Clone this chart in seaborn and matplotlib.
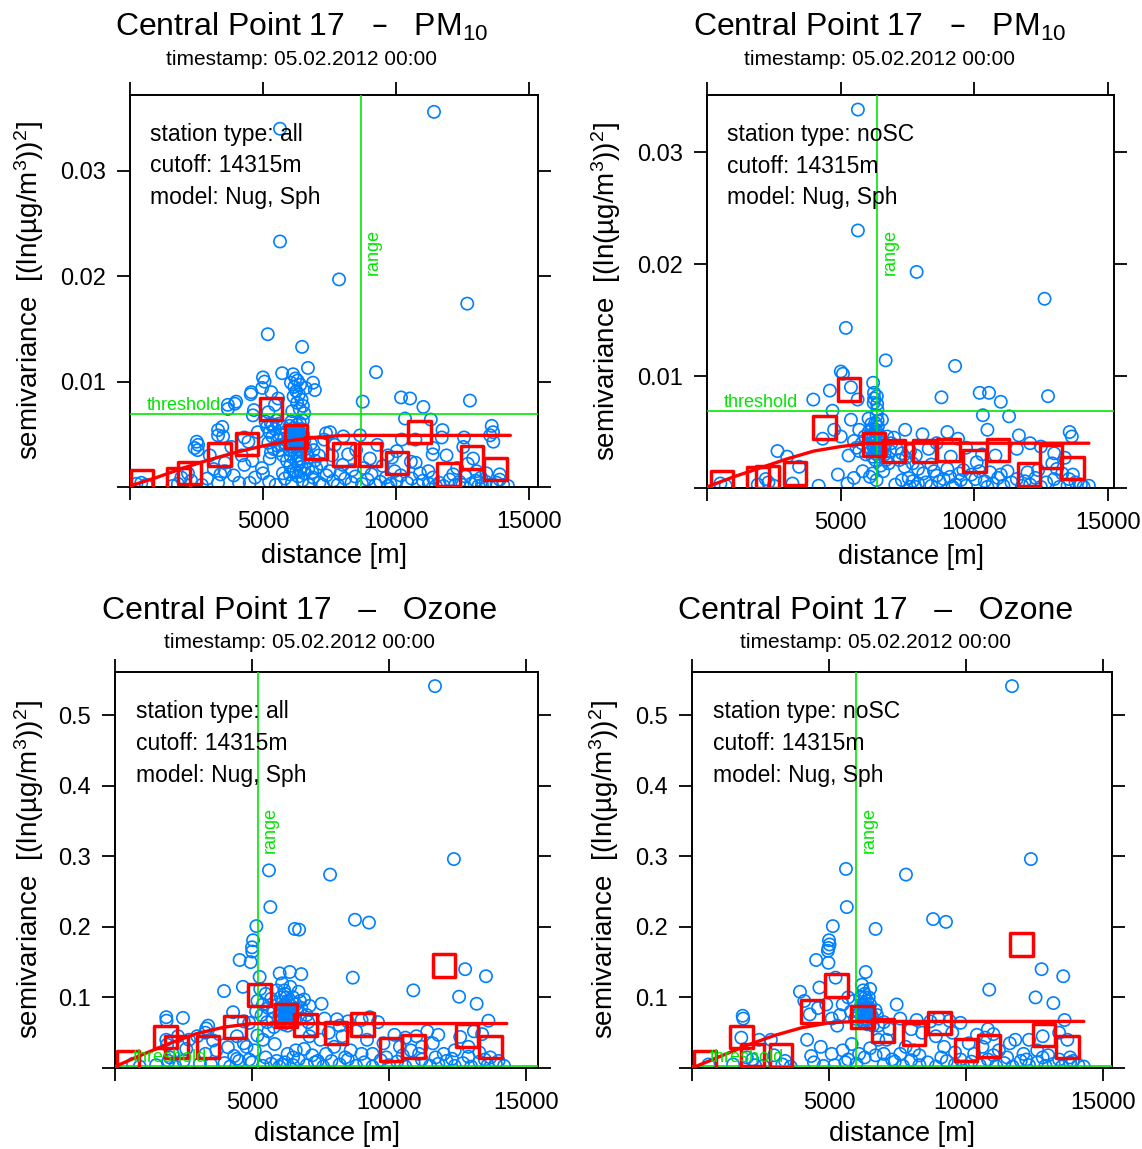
import numpy as np
import pandas as pd
import matplotlib
matplotlib.use("Agg")
import matplotlib.pyplot as plt
import matplotlib.transforms as mtransforms
import seaborn as sns

# ---------------- data ----------------
# variogram clouds: (distance [m], semivariance)
pm_all_cloud = [
    (11430, .0356), (5640, .0340), (5640, .0233), (7860, .0197), (12680, .0174),
    (5180, .0145), (6470, .0133), (9250, .0109), (5720, .0108), (6690, .0113),
    (6130, .0107), (6220, .0103), (6050, .0099), (6300, .0101), (6880, .0099),
    (6180, .0095), (6400, .0097), (6250, .0091), (6350, .0088), (6150, .0086),
    (6450, .0083), (6280, .0080), (6500, .0077), (6380, .0074), (6100, .0072),
    (6550, .0070), (6950, .0092), (6600, .0094),
    (5000, .0104), (5060, .0100), (4970, .0094), (5310, .0090), (4560, .0090),
    (4540, .0088), (5570, .0084), (3990, .0081), (3680, .0078), (3940, .0079),
    (3680, .0074), (4660, .0073), (4620, .0068), (5450, .0078), (5200, .0071),
    (12780, .0082), (8750, .0081), (10190, .0085), (10530, .0084), (11030, .0076),
    (10340, .0065), (11310, .0064), (11750, .0054), (13600, .0058), (13650, .0052),
    (13540, .0049), (13660, .0043), (12560, .0047), (12530, .0038), (11720, .0047),
    (11400, .0037), (11380, .0031), (12900, .0027), (10220, .0045), (10730, .0045),
    (10030, .0034), (9700, .0030), (9850, .0028), (10560, .0024), (10740, .0023),
    (11220, .0015), (9020, .0027), (8650, .0049), (8020, .0048), (7520, .0052),
    (7370, .0051), (7300, .0045), (7700, .0040), (8200, .0031), (7600, .0030),
    (8000, .0021), (8500, .0035), (9300, .0040), (9500, .0020), (8800, .0018),
    (7900, .0012), (11900, .0030), (13030, .0015), (12700, .0022), (13400, .0013),
    (13900, .0012), (12300, .0018),
    (2510, .0043), (2560, .0040), (3310, .0054), (3470, .0057), (3310, .0049),
    (3500, .0048), (4300, .0047), (4450, .0043), (4800, .0052), (3810, .0038),
    (2430, .0037), (2540, .0035), (3000, .0030), (3570, .0023), (3560, .0015),
    (3400, .0012), (4960, .0018), (5250, .0027), (5000, .0013), (5750, .0013),
    (4500, .0004), (4100, .0004), (3310, .0004), (2180, .0013), (1930, .0009),
    (2300, .0006), (1800, .0003), (1600, .0001), (2700, .0002), (425, .0004),
    (240, .0003), (600, .0002),
    (5150, .0057), (5250, .0052), (5350, .0048), (5450, .0055), (5550, .0045),
    (5650, .0050), (5700, .0040), (5200, .0042), (5400, .0036), (5600, .0035),
    (5800, .0046), (5900, .0053), (6000, .0058), (6070, .0062), (6500, .0063),
    (6100, .0049), (6150, .0045), (6200, .0041), (6250, .0052), (6300, .0047),
    (6350, .0043), (6400, .0039), (6450, .0055), (6500, .0050), (6550, .0044),
    (6600, .0036), (6650, .0032), (6700, .0028), (6200, .0033), (6300, .0030),
    (6400, .0027), (6100, .0038), (6000, .0035), (6050, .0029), (6250, .0024),
    (6350, .0022), (6450, .0019), (6800, .0041), (6900, .0035), (6950, .0025),
    (7100, .0030), (7200, .0022), (6150, .0056), (6280, .0059), (6380, .0061),
    (6230, .0046), (6330, .0050), (6180, .0044), (6270, .0040), (6330, .0036),
    (6420, .0047), (6120, .0051), (6260, .0048), (6310, .0044), (6360, .0052),
    (6210, .0050),
    (5100, .0062), (5300, .0060), (5500, .0063), (5350, .0058), (5600, .0060),
    (5750, .0057), (5850, .0041), (5950, .0047), (5550, .0039), (5300, .0033),
    (5750, .0030), (5900, .0025), (6020, .0020), (6150, .0016), (6250, .0014),
    (6400, .0015), (6550, .0013), (6700, .0017), (6850, .0014), (7000, .0018),
    (6230, .0054), (6290, .0055), (6340, .0046), (6260, .0043), (6200, .0049),
    (6300, .0053), (6370, .0049), (6240, .0038), (6320, .0041), (6400, .0044),
    (4300, .0021), (4600, .0025), (4200, .0030), (3900, .0011), (4700, .0009),
    (2900, .0008), (3150, .0017), (7500, .0015), (8350, .0016), (9950, .0015),
    (10900, .0013), (12150, .0012), (13200, .0009), (13900, .0007),
    (5230, .0005), (5480, .0002), (5820, .0008), (6010, .0012), (6090, .0004),
    (6320, .0010), (6480, .0006), (6730, .0002), (6880, .0009), (7120, .0004),
    (7390, .0011), (7640, .0006), (7810, .0002), (8090, .0008), (8330, .0004),
    (8470, .0010), (8720, .0003), (8930, .0007), (9080, .0012), (9230, .0002),
    (9410, .0005), (9620, .0009), (9790, .0003), (10030, .0006), (10180, .0011),
    (10420, .0004), (10590, .0008), (10830, .0002), (11010, .0006), (11240, .0003),
    (11390, .0009), (11630, .0004), (11790, .0001), (12020, .0007), (12230, .0002),
    (12390, .0005), (12610, .0010), (12820, .0003), (12990, .0006), (13230, .0002),
    (13380, .0005), (13620, .0001), (13790, .0004), (14030, .0002), (14210, .0001),
    (7250, .0002), (9700, .0001), (11500, .0001), (12500, .0002), (13100, .0001),
]

pm_nosc_cloud = [
    (5650, .0338), (5650, .0230), (7850, .0193), (12640, .0169), (5200, .0143),
    (6690, .0114), (9290, .0109), (5010, .0104), (5090, .0102), (6220, .0094),
    (4600, .0087), (5390, .0090), (5640, .0079), (3980, .0079), (6250, .0085),
    (6260, .0080), (6240, .0076), (8780, .0081), (10210, .0085), (10560, .0085),
    (11000, .0077), (12770, .0082), (4700, .0069), (10330, .0065), (11310, .0064),
    (5390, .0061), (6050, .0062), (6300, .0058), (6550, .0061), (6400, .0055),
    (6350, .0050), (4760, .0052), (5010, .0046), (5700, .0052), (4330, .0044),
    (7420, .0052), (8070, .0048), (10500, .0052), (11680, .0047), (13580, .0050),
    (13660, .0046), (2640, .0033), (3000, .0028), (5300, .0029), (5700, .0033),
    (7820, .0029), (9130, .0028), (10800, .0029), (11250, .0015), (5830, .0015),
    (6100, .0010), (6200, .0013), (6350, .0007), (3450, .0019), (4180, .0002),
    (5260, .0004), (7550, .0009), (7700, .0006), (7900, .0004), (8860, .0008),
    (9100, .0010), (8700, .0006), (12930, .0022), (13100, .0017), (13300, .0013),
    (13700, .0012), (13800, .0005), (14000, .0003), (14300, .0002), (11600, .0008),
    (11900, .0006), (12300, .0009), (10050, .0008), (10400, .0006), (10700, .0004),
    (2200, .0008), (2300, .0005), (1900, .0003), (700, .0002), (500, .0004),
    (7300, .0031), (7450, .0027), (7600, .0033),
    (6150, .0045), (6200, .0040), (6250, .0035), (6300, .0043), (6350, .0038),
    (6400, .0033), (6450, .0047), (6500, .0041), (6100, .0036), (6220, .0048),
    (6320, .0052), (6380, .0044), (6280, .0031), (6420, .0037), (6180, .0053),
    (6600, .0036), (6650, .0030), (6700, .0025), (6900, .0040), (7000, .0045),
    (7100, .0035), (6800, .0022), (6500, .0020), (6600, .0015),
    (6350, .0065), (6380, .0070), (6370, .0075), (6390, .0060), (6360, .0082),
    (6150, .0057), (6050, .0050), (5900, .0046), (5800, .0040), (5600, .0036),
    (5500, .0042), (5950, .0030), (6750, .0046), (6850, .0033), (7200, .0025),
    (7400, .0019), (7700, .0022), (8100, .0013), (8500, .0015), (9000, .0017),
    (9450, .0013), (10200, .0015), (10600, .0014), (11000, .0012), (12000, .0014),
    (12400, .0016), (13550, .0008), (6200, .0028), (6300, .0025), (6450, .0028),
    (6550, .0032), (6240, .0046), (6330, .0047), (6260, .0041), (6340, .0034),
    (4900, .0012), (5500, .0009), (3200, .0004), (2500, .0002),
    (7050, .0003), (7300, .0007), (7800, .0001), (8200, .0005), (8400, .0002),
    (8600, .0011), (9300, .0003), (9500, .0007), (9700, .0002), (9900, .0012),
    (10900, .0009), (11100, .0002), (11400, .0005), (12100, .0003), (12500, .0001),
    (12700, .0005), (13000, .0008), (13500, .0002), (14100, .0001),
    (7600, .0001), (9200, .0001), (10500, .0001), (11800, .0002), (13200, .0001),
    (8300, .0035), (8600, .0040), (9400, .0044), (9700, .0036), (10100, .0023),
    (10300, .0030), (11600, .0035), (12100, .0040), (12500, .0037), (13000, .0031),
    (13400, .0027), (9000, .0050), (8400, .0021), (7900, .0017), (9600, .0016),
]

oz_all_cloud = [
    (11680, .541), (12370, .296), (5620, .280), (7850, .274), (5670, .228),
    (8760, .210), (9270, .206), (5160, .201), (6560, .197), (6720, .196),
    (5040, .181), (5000, .171), (5010, .165), (4550, .153), (4950, .150),
    (5280, .129), (6010, .134), (6380, .136), (6800, .133), (3980, .109),
    (4670, .115), (8680, .128), (10890, .110), (12780, .140), (13540, .130),
    (12560, .101), (13200, .091), (13630, .067), (7540, .091),
    (5300, .112), (5500, .105), (5700, .098), (5900, .110), (6100, .120),
    (6200, .105), (6300, .095), (6400, .115), (6500, .100), (6600, .090),
    (6700, .108), (6800, .085), (6900, .097), (7100, .088), (5400, .090),
    (5600, .085), (5800, .080), (6000, .075), (6150, .088), (6250, .082),
    (6350, .078), (6450, .072), (6550, .068), (6650, .080), (6750, .070),
    (7000, .075), (5200, .095), (5150, .080), (6200, .065), (6300, .060),
    (6400, .070), (6100, .068), (6280, .074), (6330, .085), (6230, .090),
    (6370, .080), (6180, .078),
    (6250, .100), (6320, .092), (6180, .110), (6280, .070), (6350, .072),
    (6220, .076), (6270, .082), (6320, .066), (6150, .062), (6420, .088),
    (5950, .090), (5750, .070), (5550, .065), (5350, .075), (6050, .100),
    (6750, .095), (7050, .065),
    (1870, .072), (1880, .067), (2480, .071), (4310, .079), (3330, .056),
    (3300, .050), (3580, .039), (1870, .040), (1900, .033), (4120, .0295),
    (5830, .034), (4350, .017), (4450, .013), (4530, .010), (4900, .012),
    (5000, .008), (6300, .020), (6500, .015), (6700, .012), (6900, .027),
    (7200, .018), (7400, .010), (2000, .015), (2100, .020), (1950, .010),
    (660, .006), (3100, .006), (3500, .005), (4000, .007), (2700, .040),
    (3000, .045), (3400, .060), (3800, .048), (2300, .045), (4700, .066),
    (4900, .064), (5200, .046), (5400, .040), (5600, .052), (5800, .058),
    (4800, .030), (2600, .027), (3700, .025),
    (4450, .045), (4700, .035), (5100, .025), (5500, .015), (5900, .010),
    (6100, .005), (6600, .025), (3300, .020), (2500, .010), (900, .002),
    (7650, .070), (8100, .069), (8500, .066), (9000, .068), (9300, .072),
    (9600, .065), (10200, .047), (10600, .043), (11000, .045), (12600, .044),
    (13100, .052), (13400, .048), (7800, .050), (8300, .045), (8800, .052),
    (9200, .040), (9800, .035), (10400, .030), (10800, .025), (11200, .030),
    (11600, .035), (12000, .020), (12400, .025), (12900, .030), (13300, .022),
    (13700, .015), (8000, .030), (8600, .025), (9400, .020), (7500, .040),
    (7200, .055), (11400, .052), (11800, .047), (7100, .045), (8200, .060),
    (7700, .020), (8400, .015), (9000, .020), (9900, .015), (10500, .018),
    (11100, .020), (11700, .015), (12300, .013), (12900, .016), (13500, .012),
    (14000, .010),
    (7000, .004), (7300, .008), (7600, .002), (7900, .010), (8200, .005),
    (8500, .012), (8800, .003), (9100, .008), (9400, .002), (9700, .011),
    (10000, .004), (10300, .009), (10600, .002), (10900, .007), (11200, .012),
    (11500, .003), (11800, .006), (12100, .010), (12400, .003), (12700, .007),
    (13000, .002), (13300, .009), (13600, .004), (13900, .006), (14200, .003),
    (5400, .003), (5700, .006), (6000, .002), (6200, .008), (6500, .004),
    (4200, .002), (2200, .002), (1500, .004),
]

oz_nosc_cloud = [
    (11680, .541), (12370, .296), (5620, .282), (7810, .274), (5650, .228),
    (8800, .211), (9270, .207), (5140, .201), (6700, .197), (5000, .181),
    (5020, .175), (4980, .170), (4960, .166), (4530, .153), (4980, .149),
    (6340, .136), (5240, .128), (3940, .108), (4650, .114), (10850, .111),
    (12760, .140), (13550, .130), (12540, .100), (13190, .092), (13600, .068),
    (7470, .090), (1850, .074), (1870, .070), (1800, .043), (2450, .040),
    (2880, .040),
    (6200, .118), (6300, .105), (6400, .095), (6500, .112), (6150, .100),
    (6250, .090), (6350, .085), (6450, .080), (6550, .075), (6100, .078),
    (6600, .070), (6700, .082), (6300, .065), (6400, .062), (6200, .072),
    (6280, .088), (6380, .078), (6330, .070), (6230, .083), (5900, .095),
    (5800, .080), (5700, .100), (5500, .090), (5400, .075), (5300, .060),
    (5100, .070), (4900, .090), (4600, .085), (4300, .076), (4100, .095),
    (6800, .060), (7000, .065), (7200, .055),
    (6250, .110), (6320, .100), (6180, .090), (6280, .075), (6350, .068),
    (6220, .066), (6270, .080), (6320, .092), (6420, .072), (6150, .085),
    (6450, .100), (6500, .090), (6050, .080), (5950, .070), (6600, .060),
    (6750, .075),
    (5830, .034), (5500, .025), (6100, .020), (6300, .015), (6500, .028),
    (6800, .040), (7000, .020), (7300, .012), (4350, .017), (4450, .008),
    (3400, .010), (3000, .018), (2000, .015), (2200, .012), (1500, .005),
    (600, .005), (4200, .040), (4700, .030), (5100, .020), (5700, .012),
    (6000, .006), (6700, .018), (3300, .005), (2300, .004),
    (7600, .070), (8200, .068), (8700, .066), (9000, .070), (9400, .067),
    (9800, .064), (8400, .050), (8900, .045), (10400, .047), (10700, .043),
    (11000, .048), (10100, .035), (10600, .030), (11200, .025), (11600, .035),
    (12300, .040), (12800, .045), (13400, .050), (13700, .040), (7800, .030),
    (8100, .025), (9200, .030), (9600, .022), (12100, .020), (12600, .025),
    (13000, .018), (13800, .015), (7100, .040), (8000, .055), (9500, .050),
    (10800, .055), (11800, .040), (7600, .020), (8300, .018), (9100, .015),
    (9800, .012), (10300, .020), (11000, .018), (11500, .015), (12200, .012),
    (12800, .015), (13400, .012), (13900, .010),
    (7000, .005), (7400, .009), (7700, .003), (8000, .011), (8300, .004),
    (8600, .008), (8900, .002), (9300, .010), (9600, .005), (9900, .002),
    (10200, .009), (10500, .004), (10800, .012), (11100, .003), (11400, .007),
    (11700, .002), (12000, .010), (12300, .004), (12600, .008), (12900, .003),
    (13200, .006), (13500, .002), (13800, .008), (14100, .004), (14300, .002),
    (5200, .004), (5600, .008), (4800, .003), (3600, .002), (2600, .003),
]

# binned sample variogram (red squares)
pm_all_bins = [
    (440, .00054), (1820, .0007), (2230, .0013), (3360, .0031), (4390, .0041),
    (5290, .0074), (6240, .0048), (6990, .0037), (8050, .0031), (9020, .0031),
    (10050, .0023), (10880, .0052), (11970, .0012), (12850, .0028), (13740, .0017),
]
pm_nosc_bins = [
    (560, .00056), (1900, .0009), (2270, .0010), (3300, .0013), (4400, .0054),
    (5320, .0088), (6260, .0039), (7000, .0033), (8150, .0033), (9040, .0034),
    (10020, .0024), (10890, .0034), (12050, .0012), (12870, .0028), (13680, .0018),
]
oz_all_bins = [
    (475, .0082), (1850, .0437), (2240, .0295), (3400, .0295), (4390, .058),
    (5280, .103), (6250, .0745), (6960, .0613), (8070, .0494), (9030, .0617),
    (10070, .0262), (10890, .0305), (12010, .1454), (12840, .0461), (13710, .0295),
]
oz_nosc_bins = [
    (475, .0082), (1810, .0437), (2215, .0187), (3250, .0177), (4370, .080),
    (5280, .117), (6230, .072), (6980, .053), (8110, .0485), (9030, .0636),
    (10000, .0258), (10840, .031), (12030, .175), (12850, .047), (13700, .0295),
]

# fitted Nug+Sph model
model_dist = [0, 1000, 2000, 3000, 4000, 5000, 6000, 7000, 8000, 9000, 14300]
pm_all_model = [.0001, .0009, .0018, .0026, .0033, .0039, .0044, .0047, .0049, .0049, .0049]
pm_nosc_model = [.0001, .0010, .0018, .0026, .0033, .0037, .0040, .0040, .0040, .0040, .0040]
oz_all_model = [.002, .019, .035, .049, .058, .063, .063, .063, .063, .063, .063]
oz_nosc_model = [.000, .016, .032, .046, .057, .064, .066, .066, .066, .066, .066]

# model range (green vertical) and threshold (green horizontal)
ranges = [8680, 6380, 5220, 5990]
thresholds = [0.0069, 0.0069, 0.0026, 0.0026]

pollutants = ["PM$_{10}$", "PM$_{10}$", "Ozone", "Ozone"]
station_types = ["all", "noSC", "all", "noSC"]
cutoff = "14315m"
model_name = "Nug, Sph"
timestamp = "05.02.2012 00:00"

pm_yticks = [0, 0.01, 0.02, 0.03]
pm_yticklabels = ["", "0.01", "0.02", "0.03"]
oz_yticks = [0, 0.1, 0.2, 0.3, 0.4, 0.5]
oz_yticklabels = ["", "0.1", "0.2", "0.3", "0.4", "0.5"]
xticks = [0, 5000, 10000, 15000]
xticklabels = ["", "5000", "10000", "15000"]

# ---------------- styling ----------------
sns.set_theme(style="white")
plt.rcParams["font.family"] = ["Liberation Sans", "DejaVu Sans"]
plt.rcParams["mathtext.default"] = "regular"

BLUE = "#0080ff"
RED = "#ff0000"
GREEN = "#00e600"

fig = plt.figure(figsize=(11.42, 11.49), dpi=100)
W, H = 1142, 1149

# pixel boxes of the four panels: left, top, right, bottom
boxes = [(130, 95, 538, 487), (707, 95, 1114, 488), (115, 672, 538, 1068), (692, 672, 1112, 1068)]
xlims = [(0, 15340), (0, 15240), (0, 15440), (0, 15330)]
ylims = [(0, 0.0372), (0, 0.0351), (0, 0.561), (0, 0.561)]
title_x = [302, 880, 300, 876]
title_base = [36, 36, 619, 619]
sub_base = [65, 65, 648, 648]
ylabel_x = [-0.205, -0.206, -0.163, -0.169]
xlabel_y = [-0.143, -0.143, -0.133, -0.133]

clouds = [pm_all_cloud, pm_nosc_cloud, oz_all_cloud, oz_nosc_cloud]
bins = [pm_all_bins, pm_nosc_bins, oz_all_bins, oz_nosc_bins]
models = [pm_all_model, pm_nosc_model, oz_all_model, oz_nosc_model]

for i in range(4):
    l, t, r, b = boxes[i]
    ax = fig.add_axes([l / W, 1 - b / H, (r - l) / W, (b - t) / H])

    cloud = pd.DataFrame(clouds[i], columns=["dist", "gamma"])
    binned = pd.DataFrame(bins[i], columns=["dist", "gamma"])

    sns.scatterplot(data=cloud, x="dist", y="gamma", ax=ax, marker="o", s=78,
                    facecolor="none", edgecolor=BLUE, linewidth=1.2, zorder=2)

    ax.axhline(thresholds[i], color=GREEN, lw=1.2, zorder=3)
    ax.axvline(ranges[i], color=GREEN, lw=1.2, zorder=3)

    sns.scatterplot(data=binned, x="dist", y="gamma", ax=ax, marker="s", s=260,
                    facecolor="none", edgecolor=RED, linewidth=2.5, zorder=4)
    sns.lineplot(x=model_dist, y=models[i], ax=ax, color=RED, linewidth=2.4,
                 estimator=None, sort=False, zorder=5)

    trans = mtransforms.blended_transform_factory(ax.transAxes, ax.transData)
    ax.text(0.042, thresholds[i], "threshold", transform=trans, color=GREEN,
            fontsize=13, ha="left", va="bottom", zorder=6)
    trans2 = mtransforms.blended_transform_factory(ax.transData, ax.transAxes)
    ax.annotate("range", xy=(ranges[i], 0.6), xycoords=trans2, xytext=(3, 0),
                textcoords="offset points", rotation=90, color=GREEN,
                fontsize=13, ha="left", va="center", zorder=6)

    lines = [f"station type: {station_types[i]}", f"cutoff: {cutoff}", f"model: {model_name}"]
    for k, txt in enumerate(lines):
        ax.text(0.05, 0.90 - 0.081 * k, txt, transform=ax.transAxes, fontsize=16.5,
                ha="left", va="center", color="black", zorder=7)

    ax.set_xlim(*xlims[i])
    ax.set_ylim(*ylims[i])
    ax.set_xticks(xticks)
    ax.set_xticklabels(xticklabels)
    if i < 2:
        ax.set_yticks(pm_yticks)
        ax.set_yticklabels(pm_yticklabels)
    else:
        ax.set_yticks(oz_yticks)
        ax.set_yticklabels(oz_yticklabels)

    ax.tick_params(direction="out", length=9.5, width=1.3, color="black",
                   top=True, right=True, bottom=True, left=True,
                   labeltop=False, labelright=False, labelsize=17, pad=8,
                   labelcolor="black")
    for sp in ax.spines.values():
        sp.set_color("black")
        sp.set_linewidth(1.4)

    ax.set_xlabel("distance [m]", fontsize=19.5, color="black")
    ax.xaxis.set_label_coords(0.5, xlabel_y[i])
    ax.set_ylabel("semivariance  [(ln(µg/m$^3$))$^2$]", fontsize=20, color="black")
    ax.yaxis.set_label_coords(ylabel_x[i], 0.5)
    ax.grid(False)

    fig.text(title_x[i] / W, 1 - title_base[i] / H,
             f"Central Point 17   –   {pollutants[i]}",
             fontsize=23, ha="center", va="baseline", color="black")
    fig.text(title_x[i] / W, 1 - sub_base[i] / H, f"timestamp: {timestamp}",
             fontsize=15, ha="center", va="baseline", color="black")

fig.savefig("out.png", dpi=100)
